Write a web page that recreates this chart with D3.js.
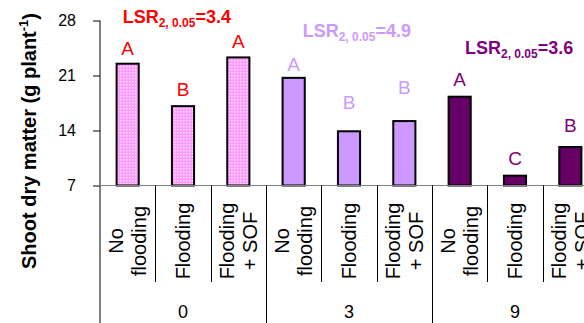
<!DOCTYPE html>
<html><head><meta charset="utf-8">
<script src="https://cdn.jsdelivr.net/npm/d3@7"></script>
<style>body{margin:0;background:#fff}svg{display:block;font-family:Arial,"Liberation Sans",sans-serif}</style>
</head><body><svg id="c" width="584" height="323"></svg>
<script>
// ---- data ----
const groups = ["0", "3", "9"];
const treatments = [["No", "flooding"], ["Flooding"], ["Flooding", "+ SOF"]];
const values = [22.5, 17.1, 23.3, 20.7, 13.9, 15.2, 18.3, 8.25, 11.9];
const letters = ["A", "B", "A", "A", "B", "B", "A", "C", "B"];
const letterAt = [23.6, 18.4, 24.5, 21.6, 16.7, 18.6, 19.7, 9.6, 13.8];
const lsrValues = ["3.4", "4.9", "3.6"];
const yTicks = [7, 14, 21, 28];

const barFill = ["#ff99ff", "#cc99ff", "#660066"];
const textFill = ["#ff0000", "#cc99ff", "#800080"];

const svg = d3.select("#c");
const defs = svg.append("defs");
const pat = defs.append("pattern").attr("id", "dotPat").attr("patternUnits", "userSpaceOnUse")
  .attr("width", 3).attr("height", 3);
pat.append("rect").attr("x", 0).attr("y", 0).attr("width", 1.5).attr("height", 1.5).attr("fill", "#ffffff");

const x0 = 100, y0 = 185.5;
const y = d3.scaleLinear().domain([7, 28]).range([y0, 20.5]);
const idx = d3.range(values.length);
const x = d3.scaleBand().domain(idx).range([x0, 598]).paddingInner(0.6).paddingOuter(0.3);
const step = x.step();

// bars
const bars = svg.append("g");
bars.selectAll("rect.bar").data(idx).join("rect").attr("class", "bar")
  .attr("x", i => x(i)).attr("width", x.bandwidth())
  .attr("y", i => y(values[i])).attr("height", i => y0 - y(values[i]))
  .attr("fill", i => barFill[Math.floor(i / 3)]);
bars.selectAll("rect.dots").data(idx.filter(i => i < 3)).join("rect").attr("class", "dots")
  .attr("x", i => x(i)).attr("width", x.bandwidth())
  .attr("y", i => y(values[i])).attr("height", i => y0 - y(values[i]))
  .attr("fill", "url(#dotPat)").attr("opacity", 0.7);
bars.selectAll("rect.edge").data(idx).join("rect").attr("class", "edge")
  .attr("x", i => x(i)).attr("width", x.bandwidth())
  .attr("y", i => y(values[i])).attr("height", i => y0 - y(values[i]))
  .attr("fill", "none").attr("stroke", "#000").attr("stroke-width", 2);

// letters
svg.append("g").selectAll("text").data(idx).join("text")
  .attr("x", i => x(i) + x.bandwidth() / 2).attr("y", i => y(letterAt[i]))
  .attr("text-anchor", "middle").attr("font-size", 19)
  .attr("fill", i => textFill[Math.floor(i / 3)])
  .text(i => letters[i]);

// LSR labels
const lsrPos = [[122.7, 23.3], [302.7, 37.3], [465, 53.5]];
groups.forEach((g, gi) => {
  const t = svg.append("text").attr("x", lsrPos[gi][0]).attr("y", lsrPos[gi][1])
    .attr("font-weight", "bold").attr("font-size", 18).attr("fill", textFill[gi]);
  t.append("tspan").text("LSR");
  t.append("tspan").attr("font-size", 12).attr("dy", 4).text("2, 0.05");
  t.append("tspan").attr("dy", -4).text("=" + lsrValues[gi]);
});

// y axis
const ya = svg.append("g").attr("transform", `translate(${x0},0)`)
  .call(d3.axisLeft(y).tickValues(yTicks).tickSize(7).tickPadding(17).tickSizeOuter(0));
ya.select(".domain").remove();
ya.selectAll("line").attr("stroke", "#000");
ya.selectAll("text").attr("font-size", 16).attr("fill", "#000").attr("font-family", "Arial, 'Liberation Sans', sans-serif");
svg.append("line").attr("x1", x0).attr("x2", x0).attr("y1", y(28)).attr("y2", 323).attr("stroke", "#000").attr("stroke-width", 1);

// baseline
svg.append("line").attr("x1", x0 - 7).attr("x2", 584).attr("y1", y0).attr("y2", y0).attr("stroke", "#808080").attr("stroke-width", 1);

// dividers
idx.forEach(i => {
  const xr = Math.round(x0 + step * (i + 1)) + 0.5;
  const isGroup = (i + 1) % 3 === 0;
  svg.append("line").attr("x1", xr).attr("x2", xr).attr("y1", y0).attr("y2", isGroup ? 323 : 282)
    .attr("stroke", "#000").attr("stroke-width", 1);
});

// category labels
idx.forEach(i => {
  const lines = treatments[i % 3];
  const cx = x0 + step * (i + 0.5);
  const t = svg.append("text").attr("transform", `translate(${cx},241) rotate(-90)`)
    .attr("text-anchor", "middle").attr("font-size", 20).attr("fill", "#000");
  lines.forEach((ln, li) => {
    const off = (li - (lines.length - 1) / 2) * 23 + 7;
    t.append("tspan").attr("x", 0).attr("y", off).text(ln);
  });
});

// group labels
groups.forEach((g, gi) => {
  svg.append("text").attr("x", x0 + step * (gi * 3 + 1.5)).attr("y", 318)
    .attr("text-anchor", "middle").attr("font-size", 18).attr("fill", "#000").text(g);
});

// y title
const yt = svg.append("text").attr("transform", "translate(29,141) rotate(-90)")
  .attr("text-anchor", "middle").attr("font-weight", "bold").attr("font-size", 20).attr("fill", "#000")
  .attr("dy", "0.35em");
yt.append("tspan").text("Shoot dry matter (g plant");
yt.append("tspan").attr("font-size", 13).attr("dy", "-0.6em").text("-1");
yt.append("tspan").attr("dy", "0.45em").text(")");
</script></body></html>
